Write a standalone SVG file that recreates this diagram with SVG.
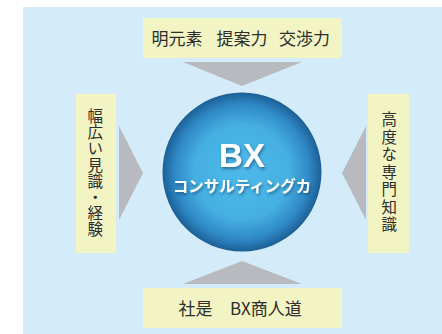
<svg xmlns="http://www.w3.org/2000/svg" width="442" height="334" viewBox="0 0 442 334">
<style>
.box{fill:#f2f4c4}
.arr{fill:#b9babf}
.t{font-family:"Noto Sans CJK JP","Noto Sans",sans-serif;font-size:15.5px;fill:#2e2e2e}
.h{font-size:17px}
.v{writing-mode:vertical-rl;text-anchor:middle}
.w{font-family:"Liberation Sans","Noto Sans CJK JP",sans-serif;font-weight:bold;fill:#ffffff;text-anchor:middle}
</style>
<defs>
<radialGradient id="g" cx="0.5" cy="0.5" r="0.5">
<stop offset="0" stop-color="#4db9ea"/>
<stop offset="0.6" stop-color="#45afe2"/>
<stop offset="0.85" stop-color="#2f88c4"/>
<stop offset="1" stop-color="#1c5f96"/>
</radialGradient>
<filter id="sh" x="-20%" y="-20%" width="140%" height="140%">
<feDropShadow dx="1" dy="2" stdDeviation="1.5" flood-color="#0b3a66" flood-opacity="0.6"/>
</filter>
</defs>
<rect x="23" y="7" width="419" height="327" fill="#d4ecf9"/>
<g id="connectors">
<polygon class="arr" points="183,62 302,62 242,86"/>
<polygon class="arr" points="119,126 119,220 143,173"/>
<polygon class="arr" points="366,126 366,220 342,173"/>
<polygon class="arr" points="183,284 302,284 242,261"/>
</g>
<g id="top">
<rect class="box" x="143" y="18" width="199" height="40"/>
<text class="t h" y="44.5"><tspan x="151.5">明元素</tspan><tspan x="216.5">提案力</tspan><tspan x="279">交渉力</tspan></text>
</g>
<g id="left">
<rect class="box" x="76" y="94" width="40" height="159"/>
<text class="t v" x="95.3" y="173" letter-spacing="0.6">幅広い見識・経験</text>
</g>
<g id="right">
<rect class="box" x="368" y="94" width="41" height="159"/>
<text class="t v" x="389.2" y="173" letter-spacing="2">高度な専門知識</text>
</g>
<g id="bottom">
<rect class="box" x="143" y="288" width="199" height="40"/>
<text class="t h" y="314.5"><tspan x="178.5">社是</tspan><tspan x="230">BX商人道</tspan></text>
</g>
<g id="center">
<circle cx="242" cy="172" r="79.5" fill="url(#g)"/>
<text class="w" x="242" y="167" font-size="33" filter="url(#sh)">BX</text>
<text class="w" x="242" y="192" font-size="15.5" filter="url(#sh)">コンサルティングカ</text>
</g>
</svg>
